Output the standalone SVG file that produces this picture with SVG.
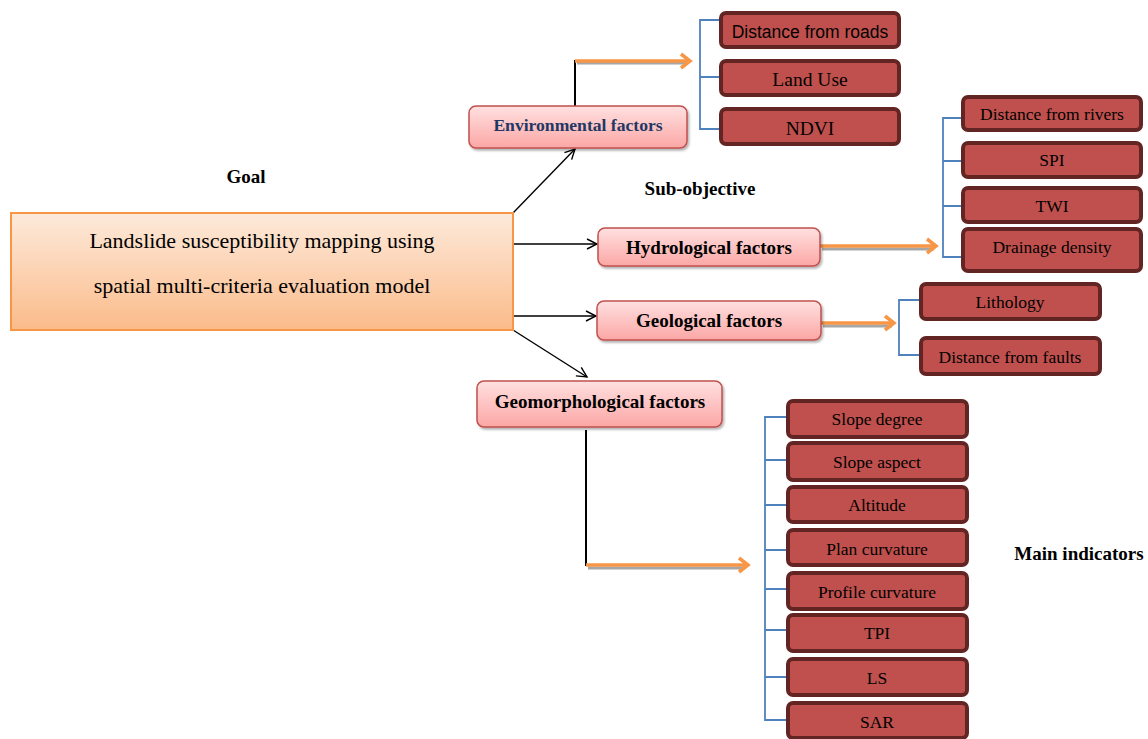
<svg xmlns="http://www.w3.org/2000/svg" width="1148" height="739" viewBox="0 0 1148 739">
<defs>
<linearGradient id="goalG" x1="0" y1="0" x2="0" y2="1"><stop offset="0" stop-color="#fdeadb"/><stop offset="1" stop-color="#fbbb8a"/></linearGradient>
<linearGradient id="subG" x1="0" y1="0" x2="0" y2="1"><stop offset="0" stop-color="#ffe0e0"/><stop offset="1" stop-color="#fba7a5"/></linearGradient>
<marker id="blk" viewBox="0 0 12 12" refX="11" refY="6" markerWidth="12" markerHeight="12" markerUnits="userSpaceOnUse" orient="auto"><path d="M1,1 L11,6 L1,11" fill="none" stroke="#000" stroke-width="1.4"/></marker>
<filter id="sh" x="-10%" y="-20%" width="130%" height="150%"><feDropShadow dx="1.5" dy="2" stdDeviation="1.2" flood-color="#000" flood-opacity="0.3"/></filter>
</defs>
<style>
.goal{fill:url(#goalG);stroke:#f79646;stroke-width:2}
.sub{fill:url(#subG);stroke:#c0504d;stroke-width:1.5;filter:url(#sh)}
.ind{fill:#c0504d;stroke:#632523;stroke-width:4}
.t{font-family:"Liberation Serif","Times New Roman",serif;fill:#000;text-anchor:middle;font-size:22px}
.hdr{font-family:"Liberation Serif",serif;font-weight:bold;font-size:19px;text-anchor:middle}
.st{font-family:"Liberation Serif",serif;font-weight:bold;font-size:19px;text-anchor:middle}
.env{font-size:17.6px;fill:#1f3864}
.it{font-family:"Liberation Serif",serif;font-size:17.5px;text-anchor:middle}
.big{font-size:19.5px}
.sans{font-family:"Liberation Sans",Arial,sans-serif}
.bl{stroke:#000;stroke-width:1.4;fill:none}
.br{stroke:#4f81bd;stroke-width:1.8;fill:none}
.or{stroke:#f79646;stroke-width:3.5;fill:none}
.orsh{stroke:#a6a6a6;stroke-width:3;fill:none}
</style>

<g id="labels">
<text class="hdr" x="246" y="183">Goal</text>
<text class="hdr" x="700" y="195">Sub-objective</text>
<text class="hdr" x="1079" y="560">Main indicators</text>
</g>

<g id="connectors">
<path class="bl" d="M513,213 L575,149" marker-end="url(#blk)"/>
<path class="bl" d="M513,244 L597,244" marker-end="url(#blk)"/>
<path class="bl" d="M513,316 L596,316" marker-end="url(#blk)"/>
<path class="bl" d="M513,330 L587,377" marker-end="url(#blk)"/>
<path d="M575,106 L575,60" stroke="#000" stroke-width="2" fill="none"/>
<path d="M586,430 L586,566" stroke="#000" stroke-width="2" fill="none"/>
<g>
<path class="orsh" d="M577,63 L688,63"/>
<path class="or" d="M575,61 L688,61"/>
<path class="or" d="M681,54 L690,61 L681,68"/>
<path class="orsh" d="M822,249 L934,249"/>
<path class="or" d="M820,246 L934,246"/>
<path class="or" d="M927,239 L936,246 L927,253"/>
<path class="orsh" d="M823,326 L892,326"/>
<path class="or" d="M821,323 L892,323"/>
<path class="or" d="M885,316 L894,323 L885,330"/>
<path class="orsh" d="M588,568 L745,568"/>
<path class="or" d="M586,565 L746,565"/>
<path class="or" d="M739,558 L748,565 L739,572"/>
</g>
<path class="br" d="M720,20 L700,20 L700,129 L720,129 M700,77 L720,77"/>
<path class="br" d="M962,118 L943,118 L943,257 L962,257 M943,161 L962,161 M943,206 L962,206"/>
<path class="br" d="M920,300 L899,300 L899,355 L920,355"/>
<path class="br" d="M787,417 L765,417 L765,720 L787,720 M765,460 L787,460 M765,505 L787,505 M765,550 L787,550 M765,589 L787,589 M765,630 L787,630 M765,677 L787,677"/>
</g>

<g id="goal">
<rect class="goal" x="11" y="213" width="502" height="117"/>
<text class="t" x="262" y="248">Landslide susceptibility mapping using</text>
<text class="t" x="262" y="293">spatial multi-criteria evaluation model</text>
</g>

<g id="environmental">
<rect class="sub" x="469" y="106" width="218" height="42" rx="7"/>
<text class="st env" x="578" y="131">Environmental factors</text>
</g>
<g id="hydrological">
<rect class="sub" x="598" y="228" width="222" height="38" rx="7"/>
<text class="st" x="709" y="254">Hydrological factors</text>
</g>
<g id="geological">
<rect class="sub" x="597" y="301" width="224" height="39" rx="7"/>
<text class="st" x="709" y="327">Geological factors</text>
</g>
<g id="geomorphological">
<rect class="sub" x="477" y="381" width="245" height="46" rx="7"/>
<text class="st" x="600" y="408">Geomorphological factors</text>
</g>

<g id="env-roads"><rect class="ind" x="721" y="13" width="178" height="34" rx="5"/><text class="it sans" x="810" y="38">Distance from roads</text></g>
<g id="env-landuse"><rect class="ind" x="721" y="61" width="178" height="34" rx="5"/><text class="it big" x="810" y="86">Land Use</text></g>
<g id="env-ndvi"><rect class="ind" x="721" y="109" width="178" height="35" rx="5"/><text class="it big" x="810" y="135">NDVI</text></g>

<g id="hyd-rivers"><rect class="ind" x="963" y="97" width="178" height="33" rx="5"/><text class="it" x="1052" y="120">Distance from rivers</text></g>
<g id="hyd-spi"><rect class="ind" x="963" y="143" width="178" height="34" rx="5"/><text class="it" x="1052" y="166">SPI</text></g>
<g id="hyd-twi"><rect class="ind" x="963" y="188" width="178" height="34" rx="5"/><text class="it" x="1052" y="212">TWI</text></g>
<g id="hyd-drainage"><rect class="ind" x="963" y="229" width="178" height="42" rx="5"/><text class="it" x="1052" y="253">Drainage density</text></g>

<g id="geo-lithology"><rect class="ind" x="921" y="284" width="179" height="35" rx="5"/><text class="it" x="1010" y="308">Lithology</text></g>
<g id="geo-faults"><rect class="ind" x="921" y="338" width="179" height="36" rx="5"/><text class="it" x="1010" y="363">Distance from faults</text></g>

<g id="gm-slope"><rect class="ind" x="788" y="401" width="179" height="36" rx="5"/><text class="it" x="877" y="425">Slope degree</text></g>
<g id="gm-aspect"><rect class="ind" x="788" y="443" width="179" height="37" rx="5"/><text class="it" x="877" y="468">Slope aspect</text></g>
<g id="gm-altitude"><rect class="ind" x="788" y="487" width="179" height="35" rx="5"/><text class="it" x="877" y="511">Altitude</text></g>
<g id="gm-plan"><rect class="ind" x="788" y="530" width="179" height="35" rx="5"/><text class="it" x="877" y="555">Plan curvature</text></g>
<g id="gm-profile"><rect class="ind" x="788" y="573" width="179" height="36" rx="5"/><text class="it" x="877" y="598">Profile curvature</text></g>
<g id="gm-tpi"><rect class="ind" x="788" y="615" width="179" height="36" rx="5"/><text class="it" x="877" y="639">TPI</text></g>
<g id="gm-ls"><rect class="ind" x="788" y="659" width="179" height="36" rx="5"/><text class="it" x="877" y="684">LS</text></g>
<g id="gm-sar"><rect class="ind" x="788" y="703" width="179" height="35" rx="5"/><text class="it" x="877" y="728">SAR</text></g>
</svg>
